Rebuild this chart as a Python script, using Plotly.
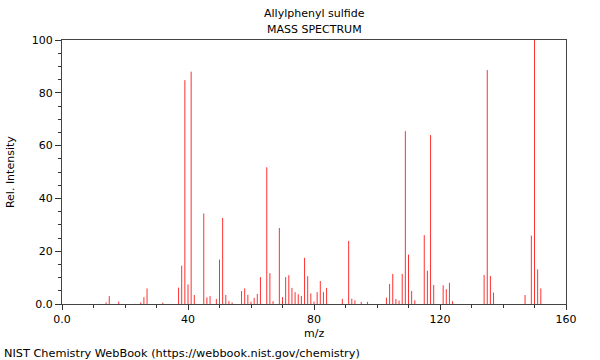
import plotly.graph_objects as go

mz = [14, 15, 18, 25, 26, 27, 32, 37, 38, 39, 40, 41, 42, 45, 46, 47, 49, 50, 51, 52, 53, 54,
      57, 58, 59, 60, 61, 62, 63, 65, 66, 67, 69, 70, 71, 72, 73, 74, 75, 76, 77, 78, 79, 80,
      81, 82, 83, 84, 89, 91, 92, 93, 95, 97, 103, 104, 105, 106, 107, 108, 109, 110, 111, 112,
      115, 116, 117, 118, 121, 122, 123, 124, 134, 135, 136, 137, 147, 149, 150, 151, 152]
intensity = [0.6, 3.0, 0.9, 0.6, 2.6, 5.9, 0.5, 6.2, 14.5, 84.8, 7.4, 88.0, 3.4, 34.3, 2.5, 3.0, 1.9, 16.8, 32.6, 3.4, 1.1, 0.6,
             4.9, 5.9, 3.5, 0.9, 2.3, 3.8, 10.2, 51.8, 11.7, 1.1, 28.8, 2.6, 10.2, 10.9, 6.1, 4.5, 3.7, 3.0, 17.5, 10.5, 4.0, 0.9,
             4.5, 8.7, 4.5, 6.1, 1.9, 23.9, 2.0, 1.4, 0.8, 0.8, 2.4, 7.6, 11.4, 1.9, 1.3, 11.4, 65.5, 18.7, 4.9, 1.4,
             26.1, 12.6, 64.0, 7.2, 7.1, 5.6, 8.0, 1.1, 11.0, 88.6, 10.6, 4.3, 3.4, 25.9, 100.0, 13.1, 5.9]

x_tickvals = [0, 40, 80, 120, 160]
x_ticktext = ["0.0", "40", "80", "120", "160"]
y_tickvals = [0, 20, 40, 60, 80, 100]
y_ticktext = ["0.0", "20", "40", "60", "80", "100"]

xs, ys = [], []
for m, h in zip(mz, intensity):
    xs += [m, m, None]
    ys += [0, h, None]

fig = go.Figure(go.Scatter(x=xs, y=ys, mode="lines",
                           line=dict(color="rgb(255,50,50)", width=1),
                           hoverinfo="skip", showlegend=False))

font = dict(family="DejaVu Sans", size=11, color="black")
fig.update_layout(
    width=600, height=360,
    margin=dict(l=62, r=34, t=40, b=56),
    paper_bgcolor="white", plot_bgcolor="white",
    font=font,
    xaxis=dict(range=[0, 160], tickvals=x_tickvals, ticktext=x_ticktext,
               ticks="outside", ticklen=5, tickcolor="#333", showgrid=False, zeroline=False,
               showline=True, linecolor="#444", linewidth=1, mirror=True,
               minor=dict(dtick=10, ticks="outside", ticklen=3, tickcolor="#333"),
               tickfont=font),
    yaxis=dict(range=[0, 100], tickvals=y_tickvals, ticktext=y_ticktext,
               ticks="outside", ticklen=6, tickcolor="#333", showgrid=False, zeroline=False,
               showline=True, linecolor="#444", linewidth=1, mirror=True,
               minor=dict(dtick=5, ticks="outside", ticklen=3, tickcolor="#333"),
               tickfont=font),
    annotations=[
        dict(text="Allylphenyl sulfide", xref="paper", yref="paper", x=0.5, y=1.102,
             yanchor="middle", showarrow=False, font=font),
        dict(text="MASS SPECTRUM", xref="paper", yref="paper", x=0.5, y=1.038,
             yanchor="middle", showarrow=False, font=font),
        dict(text="m/z", xref="paper", yref="paper", x=0.5, y=-0.11,
             yanchor="middle", showarrow=False, font=font),
        dict(text="Rel. Intensity", xref="paper", yref="paper", x=-0.103, y=0.5,
             textangle=-90, showarrow=False, font=font, xanchor="center", yanchor="middle"),
        dict(text="NIST Chemistry WebBook (https://webbook.nist.gov/chemistry)",
             xref="paper", yref="paper", x=-0.119, y=-0.186, xanchor="left", yanchor="middle",
             showarrow=False, font=dict(family="DejaVu Sans", size=11.3, color="black")),
    ],
)
fig.write_html("out.html", config={"displayModeBar": False},
               post_script="document.body.style.margin='0px';")
